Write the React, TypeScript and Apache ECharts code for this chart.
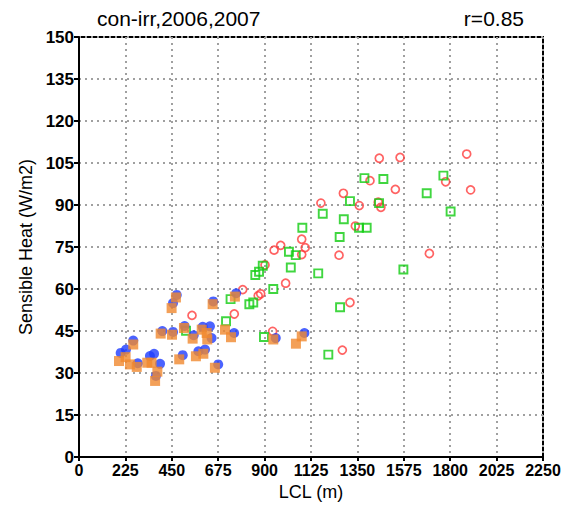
import React, { useEffect, useRef } from "react";
import * as echarts from "echarts";

const titleLeft = "con-irr,2006,2007";
const titleRight = "r=0.85";
const xName = "LCL (m)";
const yName = "Sensible Heat (W/m2)";

const xTicks = [0, 225, 450, 675, 900, 1125, 1350, 1575, 1800, 2025, 2250];
const yTicks = [0, 15, 30, 45, 60, 75, 90, 105, 120, 135, 150];

const redX = [548, 753, 794, 869, 881, 902, 939, 946, 978, 1002, 1080, 1097, 1080, 1173, 1261, 1277, 1282, 1314, 1340, 1359, 1411, 1451, 1464, 1456, 1534, 1557, 1699, 1778, 1880, 1899];
const redY = [50.6, 51.1, 59.8, 57.6, 58.3, 68.6, 44.9, 73.9, 75.6, 62.1, 77.8, 74.8, 72.3, 90.7, 72.1, 38.2, 94.2, 55.2, 82.5, 89.8, 98.7, 91.0, 89.2, 106.7, 95.6, 107.0, 72.7, 98.3, 108.2, 95.4];

const greenX = [519, 713, 735, 826, 845, 855, 873, 891, 897, 942, 1018, 1027, 1051, 1083, 1160, 1182, 1209, 1264, 1266, 1284, 1314, 1358, 1384, 1395, 1455, 1476, 1573, 1686, 1767, 1802];
const greenY = [45.1, 48.5, 56.4, 54.6, 55.2, 65.0, 66.2, 68.3, 42.9, 60.0, 73.3, 67.7, 72.1, 81.9, 65.6, 86.9, 36.6, 78.6, 53.5, 84.9, 91.4, 81.9, 99.6, 81.9, 90.7, 99.3, 67.0, 94.2, 100.5, 87.7];

const blueX = [202, 228, 263, 285, 344, 364, 373, 393, 404, 456, 456, 474, 503, 512, 556, 579, 600, 611, 635, 643, 651, 675, 752, 762, 954, 1093];
const blueY = [37.2, 38.4, 41.6, 33.5, 36.1, 36.9, 29.0, 33.3, 45.0, 55.0, 44.7, 57.9, 36.4, 46.8, 43.5, 37.8, 46.5, 38.4, 46.7, 42.5, 55.6, 33.1, 44.3, 58.5, 42.5, 44.3];

const orangeX = [194, 226, 247, 263, 280, 331, 352, 369, 380, 396, 449, 451, 470, 486, 509, 551, 567, 595, 603, 619, 622, 648, 659, 708, 737, 756, 942, 1052, 1080];
const orangeY = [34.3, 35.7, 33.1, 40.2, 32.2, 33.7, 33.7, 27.2, 30.5, 44.1, 53.2, 43.7, 57.0, 34.9, 46.1, 42.3, 36.0, 45.5, 36.9, 44.3, 42.0, 54.6, 31.9, 45.5, 42.8, 57.3, 42.0, 40.5, 43.1];

const zip = (xs: number[], ys: number[]) => xs.map((x, i) => [x, ys[i]]);

export default function App() {
  const ref = useRef<HTMLDivElement>(null);
  useEffect(() => {
    if (!ref.current) return;
    const chart = echarts.init(ref.current, undefined, { renderer: "svg" });
    const labelFont = {
      fontFamily: "'Liberation Sans', Arial, sans-serif",
      fontWeight: "bold" as const,
      fontSize: 16,
      color: "#000",
    };
    const titleStyle = {
      fontFamily: "'Liberation Sans', sans-serif",
      fontWeight: "normal" as const,
      fontSize: 21,
      color: "#000",
    };
    chart.setOption({
      animation: false,
      backgroundColor: "#fff",
      title: [
        { text: titleLeft, left: 92, top: 3, textStyle: titleStyle },
        { text: titleRight, right: 37, top: 3, textStyle: titleStyle },
      ],
      grid: {
        left: 79,
        right: 23,
        top: 37,
        bottom: 46,
        show: true,
        borderColor: "#000",
        borderWidth: 2,
        backgroundColor: "transparent",
      },
      xAxis: {
        type: "value",
        min: xTicks[0],
        max: xTicks[xTicks.length - 1],
        interval: 225,
        name: xName,
        nameLocation: "middle",
        nameGap: 24,
        nameTextStyle: { fontFamily: "'Liberation Sans', sans-serif", fontSize: 18, color: "#000" },
        axisLine: { show: true, lineStyle: { color: "#000", width: 2 } },
        axisTick: { show: true, length: 4, lineStyle: { color: "#000", width: 2 } },
        axisLabel: {
          ...labelFont,
          margin: 5,
          showMinLabel: true,
          showMaxLabel: true,
          hideOverlap: false,
          formatter: (v: number) => String(v),
        },
        splitLine: { show: true, lineStyle: { color: "#a0a0a0", width: 2, type: [2, 4] } },
      },
      yAxis: {
        type: "value",
        min: yTicks[0],
        max: yTicks[yTicks.length - 1],
        interval: 15,
        name: yName,
        nameLocation: "middle",
        nameGap: 42,
        nameTextStyle: { fontFamily: "'Liberation Sans', sans-serif", fontSize: 18, color: "#000" },
        axisLine: { show: true, lineStyle: { color: "#000", width: 2 } },
        axisTick: { show: true, length: 5, lineStyle: { color: "#000", width: 2 } },
        axisLabel: { ...labelFont, fontSize: 17, margin: 5, formatter: (v: number) => String(v) },
        splitLine: { show: true, lineStyle: { color: "#a0a0a0", width: 2, type: [2, 4] } },
      },
      series: [
        {
          type: "scatter",
          data: zip(redX, redY),
          symbol: "circle",
          symbolSize: 8,
          itemStyle: { color: "rgba(0,0,0,0)", borderColor: "#ff3c3c", borderWidth: 1.7 },
        },
        {
          type: "scatter",
          data: zip(greenX, greenY),
          symbol: "rect",
          symbolSize: 8,
          itemStyle: { color: "rgba(0,0,0,0)", borderColor: "#10cc10", borderWidth: 1.9 },
        },
        {
          type: "scatter",
          data: zip(blueX, blueY),
          symbol: "circle",
          symbolSize: 10,
          itemStyle: { color: "#1e3cff" },
        },
        {
          type: "scatter",
          data: zip(orangeX, orangeY),
          symbol: "rect",
          symbolSize: 10,
          itemStyle: { color: "#f0882e" },
        },
      ],
    });
    return () => chart.dispose();
  }, []);
  return (
    <div
      ref={ref}
      style={{ position: "absolute", left: 0, top: 0, width: 566, height: 506 }}
    />
  );
}
